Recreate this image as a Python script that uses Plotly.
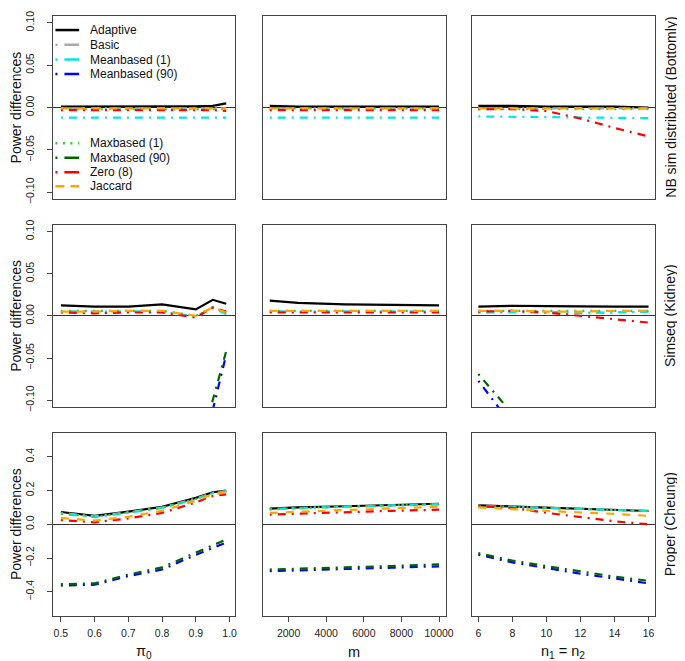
import plotly.graph_objects as go

# ---------------- data ----------------
methods = ["Adaptive", "Basic", "Meanbased (1)", "Meanbased (90)",
           "Maxbased (1)", "Maxbased (90)", "Zero (8)", "Jaccard"]
datasets = ["NB sim distributed (Bottomly)", "Simseq (Kidney)", "Proper (Cheung)"]

pi0_vals = [0.5, 0.6, 0.7, 0.8, 0.9, 0.95, 0.99]
m_vals = [1000, 2500, 5000, 7500, 10000]
n_vals = [6, 8, 10, 12, 14, 16]

pi0_ticks = [0.5, 0.6, 0.7, 0.8, 0.9, 1.0]
m_ticks = [2000, 4000, 6000, 8000, 10000]
n_ticks = [6, 8, 10, 12, 14, 16]
small_yticks = [-0.10, -0.05, 0.00, 0.05, 0.10]
large_yticks = [-0.4, -0.2, 0.0, 0.2, 0.4]

# Row 1: NB sim distributed (Bottomly)
bottomly_pi0 = {
    "Adaptive":       [0.001, 0.001, 0.001, 0.001, 0.0015, 0.002, 0.005],
    "Basic":          [-0.001, -0.001, -0.001, -0.001, -0.001, -0.001, -0.001],
    "Meanbased (1)":  [-0.012, -0.012, -0.012, -0.012, -0.012, -0.012, -0.012],
    "Meanbased (90)": [-0.30, -0.29, -0.27, -0.24, -0.20, -0.17, -0.14],
    "Maxbased (1)":   [-0.002, -0.002, -0.002, -0.002, -0.002, -0.002, -0.002],
    "Maxbased (90)":  [-0.29, -0.28, -0.26, -0.23, -0.19, -0.16, -0.13],
    "Zero (8)":       [-0.003, -0.003, -0.003, -0.003, -0.003, -0.003, -0.004],
    "Jaccard":        [-0.001, -0.001, -0.001, -0.001, -0.001, -0.001, -0.001],
}
bottomly_m = {
    "Adaptive":       [0.002, 0.001, 0.001, 0.001, 0.001],
    "Basic":          [-0.001, -0.001, -0.001, -0.001, -0.001],
    "Meanbased (1)":  [-0.012, -0.012, -0.012, -0.012, -0.012],
    "Meanbased (90)": [-0.26, -0.26, -0.25, -0.25, -0.24],
    "Maxbased (1)":   [-0.001, -0.001, -0.001, -0.001, -0.001],
    "Maxbased (90)":  [-0.25, -0.25, -0.24, -0.24, -0.23],
    "Zero (8)":       [-0.003, -0.003, -0.003, -0.003, -0.003],
    "Jaccard":        [-0.001, -0.001, -0.001, -0.001, -0.001],
}
bottomly_n = {
    "Adaptive":       [0.002, 0.002, 0.001, 0.001, 0.001, 0.000],
    "Basic":          [-0.001, -0.001, -0.001, -0.001, -0.001, -0.001],
    "Meanbased (1)":  [-0.0105, -0.011, -0.0115, -0.012, -0.0122, -0.0125],
    "Meanbased (90)": [-0.20, -0.24, -0.27, -0.30, -0.32, -0.35],
    "Maxbased (1)":   [-0.002, -0.002, -0.002, -0.002, -0.002, -0.002],
    "Maxbased (90)":  [-0.19, -0.23, -0.26, -0.29, -0.31, -0.34],
    "Zero (8)":       [-0.002, -0.002, -0.004, -0.013, -0.024, -0.034],
    "Jaccard":        [-0.001, -0.001, -0.001, -0.001, -0.001, -0.001],
}

# Row 2: Simseq (Kidney)
kidney_pi0 = {
    "Adaptive":       [0.0124, 0.011, 0.011, 0.0135, 0.0077, 0.019, 0.0143],
    "Basic":          [0.005, 0.005, 0.005, 0.005, -0.001, 0.010, 0.003],
    "Meanbased (1)":  [0.005, 0.005, 0.005, 0.005, -0.001, 0.010, 0.002],
    "Meanbased (90)": [-0.36, -0.35, -0.31, -0.26, -0.19, -0.112, -0.046],
    "Maxbased (1)":   [0.006, 0.006, 0.006, 0.006, 0.000, 0.010, 0.004],
    "Maxbased (90)":  [-0.35, -0.34, -0.30, -0.25, -0.18, -0.100, -0.042],
    "Zero (8)":       [0.004, 0.003, 0.004, 0.004, -0.002, 0.010, 0.005],
    "Jaccard":        [0.005, 0.005, 0.006, 0.006, 0.000, 0.010, 0.004],
}
kidney_m = {
    "Adaptive":       [0.018, 0.0155, 0.0137, 0.013, 0.0124],
    "Basic":          [0.005, 0.005, 0.005, 0.005, 0.005],
    "Meanbased (1)":  [0.005, 0.005, 0.005, 0.005, 0.005],
    "Meanbased (90)": [-0.28, -0.27, -0.27, -0.26, -0.25],
    "Maxbased (1)":   [0.006, 0.006, 0.006, 0.006, 0.006],
    "Maxbased (90)":  [-0.27, -0.26, -0.26, -0.25, -0.24],
    "Zero (8)":       [0.004, 0.004, 0.004, 0.004, 0.004],
    "Jaccard":        [0.006, 0.006, 0.006, 0.006, 0.006],
}
kidney_n = {
    "Adaptive":       [0.011, 0.012, 0.0115, 0.011, 0.011, 0.011],
    "Basic":          [0.004, 0.005, 0.005, 0.004, 0.004, 0.005],
    "Meanbased (1)":  [0.004, 0.004, 0.004, 0.003, 0.004, 0.005],
    "Meanbased (90)": [-0.077, -0.13, -0.18, -0.22, -0.25, -0.28],
    "Maxbased (1)":   [0.006, 0.006, 0.006, 0.006, 0.006, 0.006],
    "Maxbased (90)":  [-0.069, -0.116, -0.16, -0.20, -0.23, -0.26],
    "Zero (8)":       [0.005, 0.006, 0.004, 0.000, -0.004, -0.008],
    "Jaccard":        [0.006, 0.006, 0.005, 0.005, 0.006, 0.006],
}

# Row 3: Proper (Cheung)
cheung_pi0 = {
    "Adaptive":       [0.073, 0.050, 0.075, 0.104, 0.157, 0.190, 0.200],
    "Basic":          [0.068, 0.047, 0.072, 0.100, 0.152, 0.187, 0.197],
    "Meanbased (1)":  [0.062, 0.043, 0.068, 0.097, 0.148, 0.185, 0.195],
    "Meanbased (90)": [-0.363, -0.358, -0.307, -0.268, -0.181, -0.140, -0.108],
    "Maxbased (1)":   [0.065, 0.045, 0.070, 0.099, 0.150, 0.186, 0.196],
    "Maxbased (90)":  [-0.355, -0.350, -0.298, -0.255, -0.168, -0.125, -0.090],
    "Zero (8)":       [0.025, 0.012, 0.035, 0.068, 0.130, 0.168, 0.178],
    "Jaccard":        [0.038, 0.022, 0.045, 0.080, 0.140, 0.178, 0.188],
}
cheung_m = {
    "Adaptive":       [0.093, 0.100, 0.107, 0.115, 0.122],
    "Basic":          [0.090, 0.097, 0.105, 0.112, 0.119],
    "Meanbased (1)":  [0.088, 0.096, 0.104, 0.111, 0.118],
    "Meanbased (90)": [-0.278, -0.272, -0.265, -0.257, -0.249],
    "Maxbased (1)":   [0.090, 0.097, 0.105, 0.112, 0.120],
    "Maxbased (90)":  [-0.268, -0.262, -0.255, -0.247, -0.238],
    "Zero (8)":       [0.058, 0.064, 0.072, 0.080, 0.087],
    "Jaccard":        [0.068, 0.075, 0.085, 0.095, 0.103],
}
cheung_n = {
    "Adaptive":       [0.112, 0.106, 0.100, 0.092, 0.086, 0.079],
    "Basic":          [0.110, 0.104, 0.098, 0.091, 0.085, 0.079],
    "Meanbased (1)":  [0.108, 0.103, 0.097, 0.090, 0.085, 0.080],
    "Meanbased (90)": [-0.180, -0.226, -0.259, -0.293, -0.321, -0.350],
    "Maxbased (1)":   [0.110, 0.104, 0.098, 0.091, 0.085, 0.079],
    "Maxbased (90)":  [-0.171, -0.215, -0.248, -0.280, -0.310, -0.335],
    "Zero (8)":       [0.108, 0.097, 0.068, 0.042, 0.018, 0.000],
    "Jaccard":        [0.100, 0.089, 0.077, 0.070, 0.062, 0.050],
}

# ---------------- style ----------------
colors = {
    "Adaptive": "black", "Basic": "#a9a9a9", "Meanbased (1)": "#00e5ee",
    "Meanbased (90)": "#0000ff", "Maxbased (1)": "#33cc33",
    "Maxbased (90)": "#006400", "Zero (8)": "#ff0000", "Jaccard": "#ffa500",
}
DOTDASH = "2px,6px,8px,6px"
dashes = {
    "Adaptive": "solid", "Basic": DOTDASH, "Meanbased (1)": DOTDASH,
    "Meanbased (90)": DOTDASH, "Maxbased (1)": "2px,6px",
    "Maxbased (90)": DOTDASH, "Zero (8)": DOTDASH, "Jaccard": "8px,8px",
}
LEG_DD = "2px,7px,15px,10px"
legend_dashes = {
    "Adaptive": "solid", "Basic": LEG_DD, "Meanbased (1)": LEG_DD,
    "Meanbased (90)": LEG_DD, "Maxbased (1)": "2px,5.5px",
    "Maxbased (90)": LEG_DD, "Zero (8)": LEG_DD, "Jaccard": "9px,6px",
}

W, H = 685, 661
FONT = "Liberation Sans, Arial, Helvetica, sans-serif"
col_px = [(46, 230), (258, 443), (469, 655)]
row_px = [(3, 189), (215, 400), (426, 612)]

panels = [
    [bottomly_pi0, bottomly_m, bottomly_n],
    [kidney_pi0, kidney_m, kidney_n],
    [cheung_pi0, cheung_m, cheung_n],
]
xvals = [pi0_vals, m_vals, n_vals]
xranges = [[0.478, 1.017], [640, 10360], [5.6, 16.4]]
xticks = [pi0_ticks, m_ticks, n_ticks]
xfmts = [".1f", "d", "d"]
yranges = [[-0.108, 0.108], [-0.108, 0.108], [-0.542, 0.544]]
yticks = [small_yticks, small_yticks, large_yticks]
yfmts = [".2f", ".2f", ".1f"]

fig = go.Figure()
layout = {}
for r in range(3):
    for c in range(3):
        k = r * 3 + c + 1
        xs = "" if k == 1 else str(k)
        for meth in methods:
            fig.add_trace(go.Scatter(
                x=xvals[c], y=panels[r][c][meth], mode="lines",
                line=dict(color=colors[meth], dash=dashes[meth], width=2.2),
                name=meth, showlegend=False,
                xaxis="x" + xs, yaxis="y" + xs,
            ))
        x0, x1 = col_px[c]
        y0, y1 = row_px[r]
        show_x = (r == 2)
        show_y = (c == 0)
        layout["xaxis" + xs] = dict(
            domain=[x0 / W, x1 / W], anchor="y" + xs, range=xranges[c],
            showgrid=False, zeroline=False, showline=True, mirror=True,
            linecolor="#444", linewidth=1,
            ticks="outside" if show_x else "", ticklen=5, tickcolor="#444",
            tickvals=xticks[c] if show_x else [], tickformat=xfmts[c],
            showticklabels=show_x, ticklabelstandoff=3,
            tickfont=dict(family=FONT, size=10.5, color="#222"),
        )
        layout["yaxis" + xs] = dict(
            domain=[1 - y1 / H, 1 - y0 / H], anchor="x" + xs, range=yranges[r],
            showgrid=False, zeroline=True, zerolinecolor="#333", zerolinewidth=1,
            showline=True, mirror=True, linecolor="#444", linewidth=1,
            ticks="outside" if show_y else "", ticklen=5, tickcolor="#444",
            tickvals=yticks[r] if show_y else [], tickformat=yfmts[r],
            showticklabels=show_y, tickangle=-90, ticklabelstandoff=9,
            tickfont=dict(family=FONT, size=10.5, color="#222"),
        )

annotations = []
shapes = []
for r in range(3):
    yc = (row_px[r][0] + row_px[r][1]) / 2
    annotations.append(dict(text="Power differences", x=8 / W, y=1 - yc / H,
                            xref="paper", yref="paper", showarrow=False,
                            xanchor="center", yanchor="middle",
                            textangle=-90, font=dict(family=FONT, size=14, color="#111")))
    annotations.append(dict(text=datasets[r], x=670 / W, y=1 - yc / H,
                            xref="paper", yref="paper", showarrow=False,
                            xanchor="center", yanchor="middle",
                            textangle=-90, font=dict(family=FONT, size=14, color="#111")))
xtitles = ["π<sub>0</sub>", "m", "n<sub>1</sub> = n<sub>2</sub>"]
for c in range(3):
    xc = (col_px[c][0] + col_px[c][1]) / 2
    annotations.append(dict(text=xtitles[c], x=xc / W, y=1 - 649 / H,
                            xref="paper", yref="paper", showarrow=False,
                            xanchor="center", yanchor="middle",
                            font=dict(family=FONT, size=14.5, color="#111")))

# manual legend in top-left panel (two groups, as in the reference)
legend_rows = [17.3, 32.3, 47.3, 62.0, 132.3, 147.0, 161.7, 176.0]
for meth, ly in zip(methods, legend_rows):
    shapes.append(dict(type="line", xref="paper", yref="paper",
                       x0=48 / W, x1=72 / W, y0=1 - ly / H, y1=1 - ly / H,
                       line=dict(color=colors[meth], width=2.5, dash=legend_dashes[meth])))
    annotations.append(dict(text=meth, x=81 / W, y=1 - ly / H, xref="paper", yref="paper",
                            xanchor="left", yanchor="middle", showarrow=False,
                            font=dict(family=FONT, size=12, color="#111")))

fig.update_layout(
    width=W, height=H, autosize=False,
    margin=dict(l=0, r=0, t=0, b=0),
    paper_bgcolor="white", plot_bgcolor="white",
    showlegend=False, annotations=annotations, shapes=shapes,
    **layout,
)
fig.write_html("out.html")
